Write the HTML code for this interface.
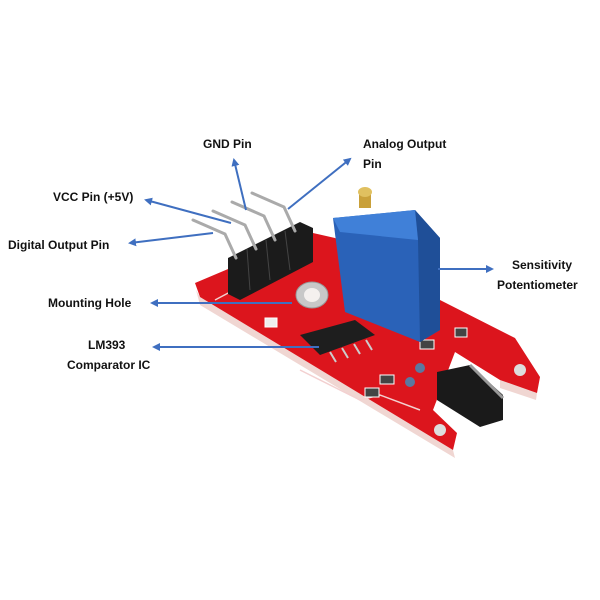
<!DOCTYPE html>
<html><head><meta charset="utf-8"><style>
html,body{margin:0;padding:0;background:#fff;}
svg{display:block}
text{font-family:"Liberation Sans",sans-serif;font-weight:bold;font-size:12px;fill:#111}
</style></head><body>
<svg width="600" height="600" viewBox="0 0 600 600">
<defs>
<marker id="ah" markerWidth="8" markerHeight="8" refX="6" refY="4" orient="auto" markerUnits="userSpaceOnUse">
<path d="M0,0 L8,4 L0,8 Z" fill="#3f6fc0"/></marker>
</defs>
<!-- board thickness -->
<polygon points="200,297 453,450 455,458 200,305 196,290" fill="#f0d6d2"/>
<polygon points="537,393 500,380 500,388 536,400" fill="#f0d6d2"/>
<!-- board -->
<polygon points="195,283 313,233 335,238 440,300 515,338 540,377 537,393 500,380 455,352 433,410 457,433 453,450 200,297" fill="#dc151d"/>
<!-- silk lines -->
<polyline points="300,370 360,400 380,395 420,410" fill="none" stroke="#f3d0d0" stroke-width="1.5"/>
<polyline points="215,300 300,255" fill="none" stroke="#f3d0d0" stroke-width="1.5"/>
<!-- header -->
<polygon points="228,258 300,222 313,228 313,262 240,300 228,294" fill="#1b1b1b"/>
<g stroke="#444" stroke-width="1">
<line x1="247" y1="249" x2="250" y2="290"/><line x1="266" y1="240" x2="270" y2="280"/><line x1="285" y1="231" x2="290" y2="270"/>
</g>
<!-- pins -->
<g stroke="#aaa" stroke-width="3" fill="none" stroke-linecap="round">
<polyline points="193,220 225,234 236,258"/>
<polyline points="213,211 245,225 256,249"/>
<polyline points="232,202 264,216 275,240"/>
<polyline points="252,193 284,207 295,231"/>
</g>
<!-- mounting hole -->
<ellipse cx="312" cy="295" rx="16" ry="13" fill="#c8c8c8" stroke="#999"/>
<ellipse cx="312" cy="295" rx="8" ry="7" fill="#f4f0ee"/>
<!-- LED/resistors -->
<rect x="265" y="318" width="12" height="9" fill="#eee" stroke="#fff"/>
<rect x="380" y="375" width="14" height="9" fill="#444" stroke="#fff"/>
<rect x="365" y="388" width="14" height="9" fill="#444" stroke="#fff"/>
<rect x="420" y="340" width="14" height="9" fill="#444" stroke="#fff"/>
<rect x="455" y="328" width="12" height="9" fill="#444" stroke="#fff"/>
<circle cx="420" cy="368" r="5" fill="#5a78a0"/>
<circle cx="410" cy="382" r="5" fill="#5a78a0"/>
<circle cx="520" cy="370" r="6" fill="#ddd"/>
<circle cx="440" cy="430" r="6" fill="#ddd"/>
<!-- IC -->
<polygon points="300,335 355,320 375,335 320,355" fill="#1e1e1e"/>
<g stroke="#ccc" stroke-width="2"><line x1="330" y1="352" x2="336" y2="362"/><line x1="342" y1="348" x2="348" y2="358"/><line x1="354" y1="344" x2="360" y2="354"/><line x1="366" y1="340" x2="372" y2="350"/></g>
<!-- pot -->
<polygon points="333,218 415,210 440,238 440,330 420,342 345,312" fill="#2a62b8"/>
<polygon points="415,210 440,238 440,330 420,342 418,240" fill="#1f4f98"/>
<polygon points="333,218 415,210 418,240 340,232" fill="#4080d8"/>
<rect x="359" y="190" width="12" height="18" fill="#c9a03a"/>
<ellipse cx="365" cy="192" rx="7" ry="5" fill="#e0c060"/>
<!-- sensor -->
<polygon points="437,372 470,365 503,395 503,420 480,427 437,400" fill="#1a1a1a"/>
<line x1="470" y1="365" x2="503" y2="398" stroke="#999" stroke-width="3"/>
<!-- arrows -->
<g stroke="#3f6fc0" stroke-width="2" fill="none" marker-end="url(#ah)">
<line x1="246" y1="210" x2="234" y2="160"/>
<line x1="288" y1="209" x2="350" y2="159"/>
<line x1="231" y1="223" x2="146" y2="200"/>
<line x1="213" y1="233" x2="130" y2="243"/>
<line x1="438" y1="269" x2="492" y2="269"/>
<line x1="292" y1="303" x2="152" y2="303"/>
<line x1="319" y1="347" x2="154" y2="347"/>
</g>
<!-- labels -->
<text x="203" y="148">GND Pin</text>
<text x="363" y="148">Analog Output</text>
<text x="363" y="168">Pin</text>
<text x="53" y="201">VCC Pin (+5V)</text>
<text x="8" y="249">Digital Output Pin</text>
<text x="512" y="269">Sensitivity</text>
<text x="497" y="289">Potentiometer</text>
<text x="48" y="307">Mounting Hole</text>
<text x="88" y="349">LM393</text>
<text x="67" y="369">Comparator IC</text>
</svg>
</body></html>
